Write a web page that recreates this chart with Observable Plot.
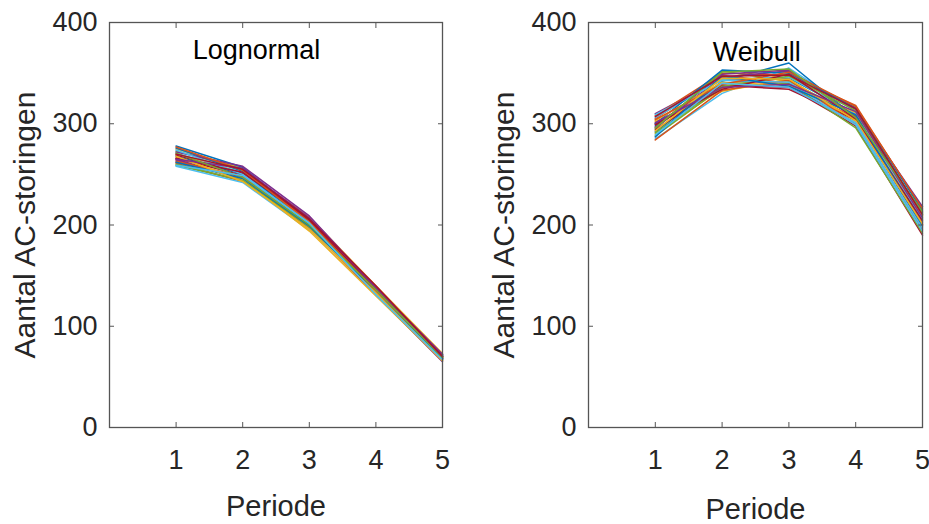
<!DOCTYPE html>
<html>
<head>
<meta charset="utf-8">
<script src="https://cdn.jsdelivr.net/npm/d3@7"></script>
<script src="https://cdn.jsdelivr.net/npm/@observablehq/plot@0.6"></script>
<style>
  html, body { margin: 0; padding: 0; background: #fff; }
  #wrap { position: relative; width: 929px; height: 524px; overflow: hidden; background: #fff; }
  #wrap > svg { position: absolute; top: 0; }
</style>
</head>
<body>
<div id="wrap"></div>
<script>
// ---- data ----
const periods = [1, 2, 3, 4, 5];
const xTicks = [1, 2, 3, 4, 5];
const yTicks = [0, 100, 200, 300, 400];
const xLabel = "Periode";
const yLabel = "Aantal AC-storingen";
const titles = ["Lognormal", "Weibull"];
const titlePos = [[1.25, 372], [1.86, 371]];
const matlabColors = ["#0072BD", "#D95319", "#EDB120", "#7E2F8E", "#77AC30", "#4DBEEE", "#A2142F"];

// Lognormal simulations (values per period 1..5)
const lognormalRuns = [
  [268, 250, 203, 136, 70],
  [262, 247, 200, 134, 68],
  [275, 256, 205, 133, 66],
  [265, 245, 198, 137, 71],
  [259, 244, 196, 135, 69],
  [271, 252, 207, 139, 72],
  [266, 249, 201, 132, 67],
  [278, 257, 204, 136, 68],
  [261, 243, 199, 138, 70],
  [270, 254, 208, 140, 73],
  [264, 246, 197, 131, 65],
  [273, 255, 202, 134, 69],
  [258, 242, 195, 137, 71],
  [269, 251, 206, 135, 67],
  [276, 253, 200, 133, 68],
  [263, 248, 203, 139, 70],
  [267, 245, 194, 130, 66],
  [272, 258, 209, 138, 72],
  [260, 244, 198, 136, 69],
  [274, 250, 201, 132, 67],
  [266, 252, 205, 137, 71],
  [262, 246, 199, 134, 68],
  [277, 254, 203, 135, 70],
  [268, 243, 196, 133, 66],
  [265, 256, 207, 138, 72],
  [271, 247, 200, 136, 69],
  [259, 249, 202, 131, 67],
  [270, 255, 206, 140, 70]
];

// Weibull simulations (values per period 1..5)
const weibullRuns = [
  [298, 340, 345, 310, 205],
  [305, 348, 340, 305, 200],
  [290, 335, 350, 315, 210],
  [310, 345, 338, 300, 195],
  [295, 352, 342, 308, 212],
  [285, 330, 355, 312, 203],
  [300, 338, 336, 298, 190],
  [292, 342, 360, 306, 198],
  [308, 350, 348, 318, 215],
  [302, 332, 344, 302, 208],
  [296, 346, 352, 314, 218],
  [288, 336, 340, 296, 192],
  [306, 344, 346, 310, 206],
  [294, 338, 334, 304, 200],
  [300, 353, 350, 316, 214],
  [284, 333, 343, 300, 196],
  [303, 341, 338, 311, 209],
  [297, 349, 353, 307, 202],
  [291, 337, 347, 313, 211],
  [309, 343, 341, 299, 194],
  [299, 334, 349, 305, 204],
  [287, 347, 337, 309, 199],
  [304, 339, 351, 317, 216],
  [293, 345, 344, 303, 201],
  [301, 336, 339, 312, 207],
  [296, 351, 354, 306, 213],
  [289, 340, 336, 301, 197],
  [307, 347, 348, 315, 210]
];

// ---- build ----
function toRows(runs) {
  const rows = [];
  runs.forEach((r, s) => r.forEach((v, i) => rows.push({s, x: periods[i], y: v})));
  return rows;
}

const axisColor = "#555555";
const textColor = "#262626";
const font = "'Liberation Sans', Arial, Helvetica, sans-serif";

function panel(runs, title, tpos, opts) {
  const rows = toRows(runs);
  return Plot.plot({
    width: opts.width,
    height: 524,
    marginLeft: opts.ml,
    marginRight: opts.mr,
    marginTop: 22,
    marginBottom: 97,
    style: {fontFamily: font, fontSize: "27px", color: textColor, background: "white", overflow: "visible"},
    x: {domain: [0, 5], label: null},
    y: {domain: [0, 400], label: null},
    color: {type: "ordinal", domain: runs.map((_, i) => i), range: matlabColors},
    marks: [
      Plot.line(rows, {x: "x", y: "y", z: "s", stroke: "s", strokeWidth: 1.5}),
      Plot.frame({stroke: axisColor, strokeWidth: 1.3}),
      Plot.axisX({anchor: "bottom", ticks: xTicks, tickSize: -5, tickFormat: () => "", stroke: axisColor, label: null}),
      Plot.axisX({anchor: "top", ticks: xTicks, tickSize: -5, tickFormat: () => "", stroke: axisColor, label: null}),
      Plot.axisY({anchor: "left", ticks: yTicks, tickSize: -5, tickFormat: () => "", stroke: axisColor, label: null}),
      Plot.axisY({anchor: "right", ticks: yTicks, tickSize: -5, tickFormat: () => "", stroke: axisColor, label: null}),
      Plot.axisX({anchor: "bottom", ticks: xTicks, tickSize: 0, tickPadding: 22, tickFormat: d => String(d), fontSize: 27, fill: textColor, label: null}),
      Plot.axisY({anchor: "left", ticks: yTicks, tickSize: 0, tickPadding: 12, tickFormat: d => String(d), fontSize: 27, fill: textColor, label: null}),
      Plot.text([title], {text: d => d, x: () => tpos[0], y: () => tpos[1], textAnchor: "start", lineAnchor: "middle", fontSize: 27, fill: "#000"}),
      Plot.text([xLabel], {text: d => d, frameAnchor: "bottom", textAnchor: "middle", dy: opts.xdy, lineAnchor: "middle", fontSize: 29, fill: textColor}),
      Plot.text([yLabel], {text: d => d, frameAnchor: "left", textAnchor: "middle", rotate: -90, dx: -84, lineAnchor: "middle", fontSize: 30, fill: textColor})
    ]
  });
}

const wrap = document.getElementById("wrap");
const left = panel(lognormalRuns, titles[0], titlePos[0], {width: 465, ml: 109, mr: 23, xdy: 79});
left.style.left = "0px";
wrap.appendChild(left);
const right = panel(weibullRuns, titles[1], titlePos[1], {width: 464, ml: 123, mr: 7, xdy: 82});
right.style.left = "465px";
wrap.appendChild(right);
</script>
</body>
</html>
